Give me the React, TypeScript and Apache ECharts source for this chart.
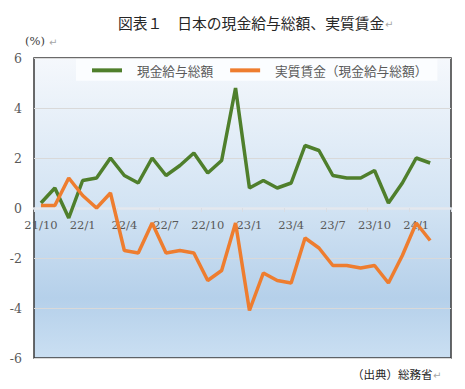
import React, { useEffect, useRef } from "react";
import * as echarts from "echarts";

const categories = [
  "21/10", "21/11", "21/12",
  "22/1", "22/2", "22/3", "22/4", "22/5", "22/6", "22/7", "22/8", "22/9", "22/10", "22/11", "22/12",
  "23/1", "23/2", "23/3", "23/4", "23/5", "23/6", "23/7", "23/8", "23/9", "23/10", "23/11", "23/12",
  "24/1", "24/2", "24/3",
];
const cashEarnings = [
  0.2, 0.8, -0.4,
  1.1, 1.2, 2.0, 1.3, 1.0, 2.0, 1.3, 1.7, 2.2, 1.4, 1.9, 4.8,
  0.8, 1.1, 0.8, 1.0, 2.5, 2.3, 1.3, 1.2, 1.2, 1.5, 0.2, 1.0,
  2.0, 1.8,
];
const realWages = [
  0.1, 0.1, 1.2,
  0.5, 0.0, 0.6, -1.7, -1.8, -0.6, -1.8, -1.7, -1.8, -2.9, -2.5, -0.6,
  -4.1, -2.6, -2.9, -3.0, -1.2, -1.6, -2.3, -2.3, -2.4, -2.3, -3.0, -1.9,
  -0.6, -1.3,
];
const seriesNames = ["現金給与総額", "実質賃金（現金給与総額）"];
const titleText = "図表１　日本の現金給与総額、実質賃金";
const unitText = "(%)";
const sourceText = "（出典）総務省";

const CJK = '"Noto Sans CJK JP", "Noto Sans", sans-serif';
const SERIF = '"DejaVu Serif", "Liberation Serif", serif';

const GRID_TOP = 58;
const GRID_BOTTOM = 31;
const CHART_H = 389;
const Y_MIN = -6;
const Y_MAX = 6;

export default function App() {
  const ref = useRef<HTMLDivElement>(null);
  useEffect(() => {
    if (!ref.current) return;
    const chart = echarts.init(ref.current, undefined, { renderer: "svg" });
    const plotH = CHART_H - GRID_TOP - GRID_BOTTOM;
    // shift the category axis from the bottom of the grid up to the zero line
    const zeroOffset = -(plotH * (0 - Y_MIN)) / (Y_MAX - Y_MIN);
    chart.setOption({
      animation: false,
      backgroundColor: "#ffffff",
      grid: {
        left: 34,
        top: GRID_TOP,
        right: 14,
        bottom: GRID_BOTTOM,
        show: true,
        borderColor: "#3a3a3a",
        borderWidth: 1.5,
        backgroundColor: new echarts.graphic.LinearGradient(0, 0, 0, 1, [
          { offset: 0, color: "#f5f8fc" },
          { offset: 0.5, color: "#d2e3f3" },
          { offset: 0.8, color: "#b5d0ea" },
          { offset: 1, color: "#cadff2" },
        ]),
      },
      legend: {
        data: seriesNames,
        left: 76,
        top: 59,
        padding: [5, 10, 4, 16],
        itemGap: 17,
        itemWidth: 30,
        itemHeight: 4,
        icon: "rect",
        backgroundColor: "#fbfdff",
        textStyle: {
          fontFamily: CJK,
          fontSize: 12.7,
          color: "#595959",
          padding: [0, 0, 0, 10],
        },
      },
      xAxis: {
        type: "category",
        data: categories,
        boundaryGap: true,
        position: "bottom",
        offset: zeroOffset,
        axisLine: { onZero: false, lineStyle: { color: "#e4e8ee", width: 2.5 } },
        axisTick: { show: true, interval: 2, length: 4, lineStyle: { color: "#d8dde4" } },
        axisLabel: {
          interval: 2,
          margin: 11,
          fontFamily: SERIF,
          fontSize: 11.5,
          color: "#595959",
        },
        splitLine: { show: false },
      },
      yAxis: {
        type: "value",
        min: Y_MIN,
        max: Y_MAX,
        interval: 2,
        axisLine: { show: false },
        axisTick: { show: false },
        axisLabel: {
          margin: 12,
          fontFamily: SERIF,
          fontSize: 12.5,
          color: "#595959",
        },
        splitLine: { lineStyle: { color: "#d9d9d9", width: 1 } },
      },
      series: [
        {
          name: seriesNames[0],
          type: "line",
          data: cashEarnings,
          symbol: "none",
          lineStyle: { color: "#4f7f2c", width: 3.5 },
          itemStyle: { color: "#4f7f2c" },
          z: 3,
        },
        {
          name: seriesNames[1],
          type: "line",
          data: realWages,
          symbol: "none",
          lineStyle: { color: "#ee7d2f", width: 3.5 },
          itemStyle: { color: "#ee7d2f" },
          z: 4,
        },
      ],
      graphic: [
        {
          type: "text",
          left: 118,
          top: 15,
          style: {
            text: titleText,
            fontFamily: CJK,
            fontSize: 14.8,
            fill: "#262626",
          },
        },
        {
          type: "text",
          left: 385,
          top: 19,
          style: { text: "↵", fontFamily: '"DejaVu Sans", sans-serif', fontSize: 10, fill: "#a6a6a6" },
        },
        {
          type: "text",
          left: 25,
          top: 35,
          style: { text: unitText, fontFamily: SERIF, fontSize: 11.5, fill: "#404040" },
        },
        {
          type: "text",
          left: 49,
          top: 37,
          style: { text: "↵", fontFamily: '"DejaVu Sans", sans-serif', fontSize: 10, fill: "#a6a6a6" },
        },
        {
          type: "text",
          left: 352,
          top: 368,
          style: { text: sourceText, fontFamily: CJK, fontSize: 11.5, fill: "#262626" },
        },
        {
          type: "text",
          left: 433,
          top: 370,
          style: { text: "↵", fontFamily: '"DejaVu Sans", sans-serif', fontSize: 10, fill: "#a6a6a6" },
        },
      ],
    });
    return () => chart.dispose();
  }, []);
  return (
    <div
      ref={ref}
      style={{ position: "absolute", left: 0, top: 0, width: 465, height: 389 }}
    />
  );
}
